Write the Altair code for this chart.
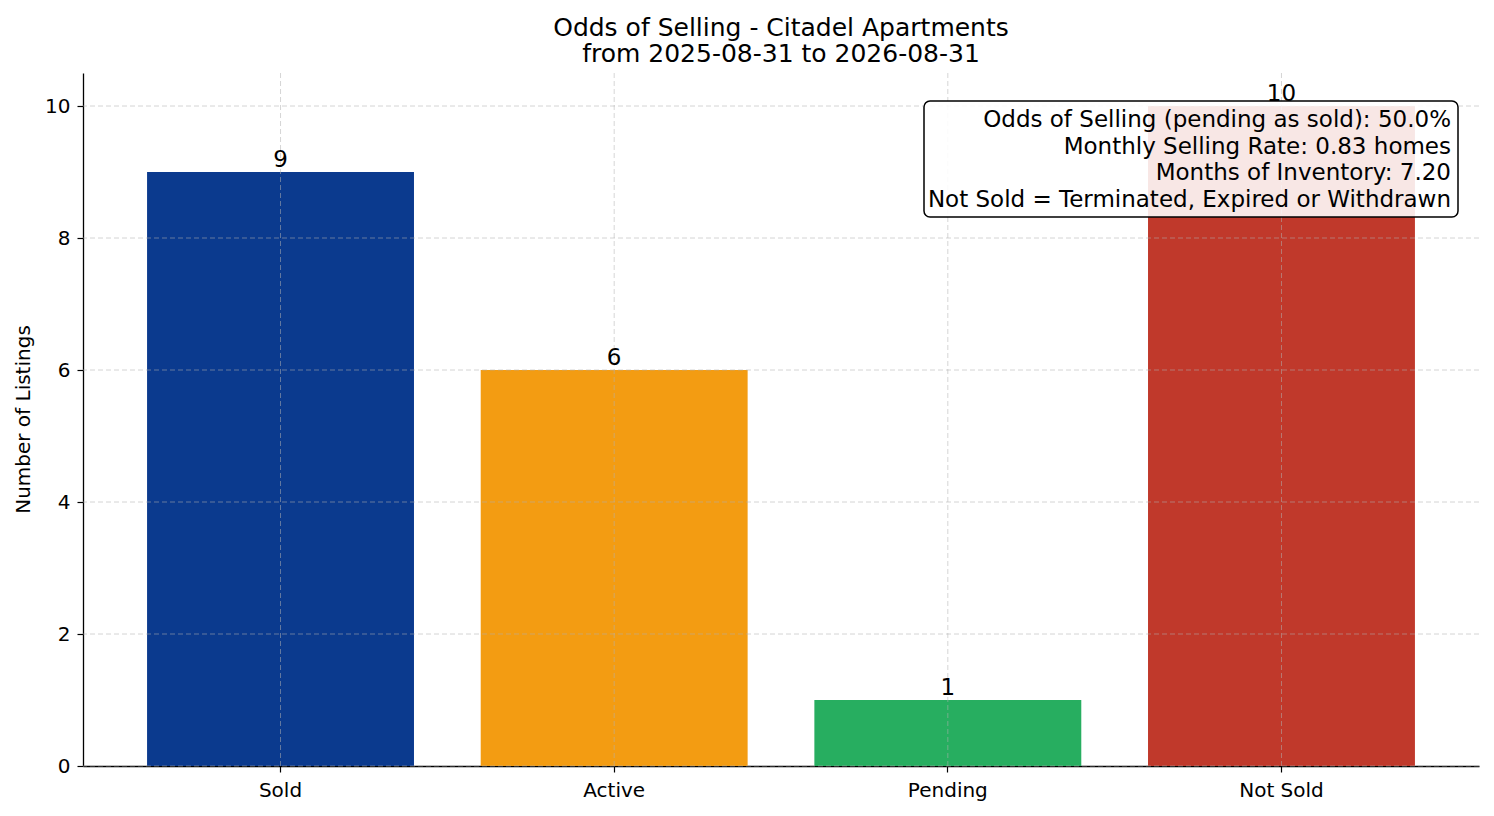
import altair as alt
import pandas as pd

# ---- data ----
categories = ["Sold", "Active", "Pending", "Not Sold"]
counts = [9, 6, 1, 10]
bar_colors = ["#0b3a8e", "#f39c12", "#27ae60", "#c0392b"]
y_ticks = [0, 2, 4, 6, 8, 10]
title_lines = ["Odds of Selling - Citadel Apartments", "from 2025-08-31 to 2026-08-31"]
info_lines = [
    "Odds of Selling (pending as sold): 50.0%",
    "Monthly Selling Rate: 0.83 homes",
    "Months of Inventory: 7.20",
    "Not Sold = Terminated, Expired or Withdrawn",
]

df = pd.DataFrame({"status": categories, "count": counts})
grid_df = pd.DataFrame({"count": y_ticks})
one_df = pd.DataFrame({"k": [0]})

FONT = "DejaVu Sans"
W, H = 1396, 693

x_scale = alt.Scale(domain=categories, paddingInner=0.2, paddingOuter=0.192)
y_scale = alt.Scale(domain=[0, 10.5], nice=False, zero=True)

x_axis = alt.Axis(
    title=None, labelAngle=0, labelFontSize=20, labelFont=FONT, labelColor="black",
    tickSize=6, tickColor="black", tickWidth=1.2, domainColor="black", domainWidth=1.3,
    labelPadding=8, grid=False,
)
y_axis = alt.Axis(
    title="Number of Listings", values=y_ticks, grid=False,
    labelFontSize=20, labelFont=FONT, labelColor="black",
    tickSize=6, tickColor="black", tickWidth=1.2, domainColor="black", domainWidth=1.3,
    labelPadding=7, titleFontSize=20, titleFont=FONT, titleFontWeight="normal",
    titleColor="black", titleX=-60, titleY=346, titleAngle=270,
    titleAlign="center", titleBaseline="middle",
)

def xe():
    return alt.X("status:N", scale=x_scale, sort=categories, axis=x_axis, title=None)

def ye():
    return alt.Y("count:Q", scale=y_scale, axis=y_axis, title="Number of Listings")

bars = alt.Chart(df).mark_bar().encode(
    x=xe(),
    y=ye(),
    color=alt.Color("status:N", scale=alt.Scale(domain=categories, range=bar_colors), legend=None),
)

grid_style = dict(stroke="#b0b0b0", strokeDash=[5, 3], strokeWidth=0.9, opacity=0.6)
hgrid = alt.Chart(grid_df).mark_rule(**grid_style).encode(y=ye())
vgrid = alt.Chart(df).mark_rule(**grid_style).encode(x=xe())

labels = alt.Chart(df).mark_text(
    baseline="bottom", dy=0, fontSize=23, font=FONT, color="black"
).encode(
    x=xe(),
    y=ye(),
    text="count:Q",
)

box = alt.Chart(one_df).mark_rect(
    cornerRadius=6, fill="white", fillOpacity=0.88, stroke="black", strokeWidth=1.5
).encode(
    x=alt.value(841), x2=alt.value(1375), y=alt.value(28), y2=alt.value(144)
)

info = alt.Chart(one_df).mark_text(
    align="right", baseline="middle", fontSize=23, lineHeight=26.5, font=FONT, color="black"
).encode(
    x=alt.value(1368), y=alt.value(47), text=alt.value(info_lines)
)

chart = alt.layer(bars, hgrid, vgrid, labels, box, info).properties(
    width=W,
    height=H,
    background="white",
    title=alt.TitleParams(
        text=title_lines, fontSize=25, font=FONT, fontWeight="normal", color="black",
        anchor="middle", frame="group", baseline="bottom", offset=-19, lineHeight=26,
    ),
    autosize=alt.AutoSizeParams(type="none"),
    padding={"left": 75, "top": 65, "right": 7, "bottom": 42},
).configure_view(strokeWidth=0, stroke="transparent")

chart.save("out.html", embed_options={"renderer": "svg", "actions": False})
